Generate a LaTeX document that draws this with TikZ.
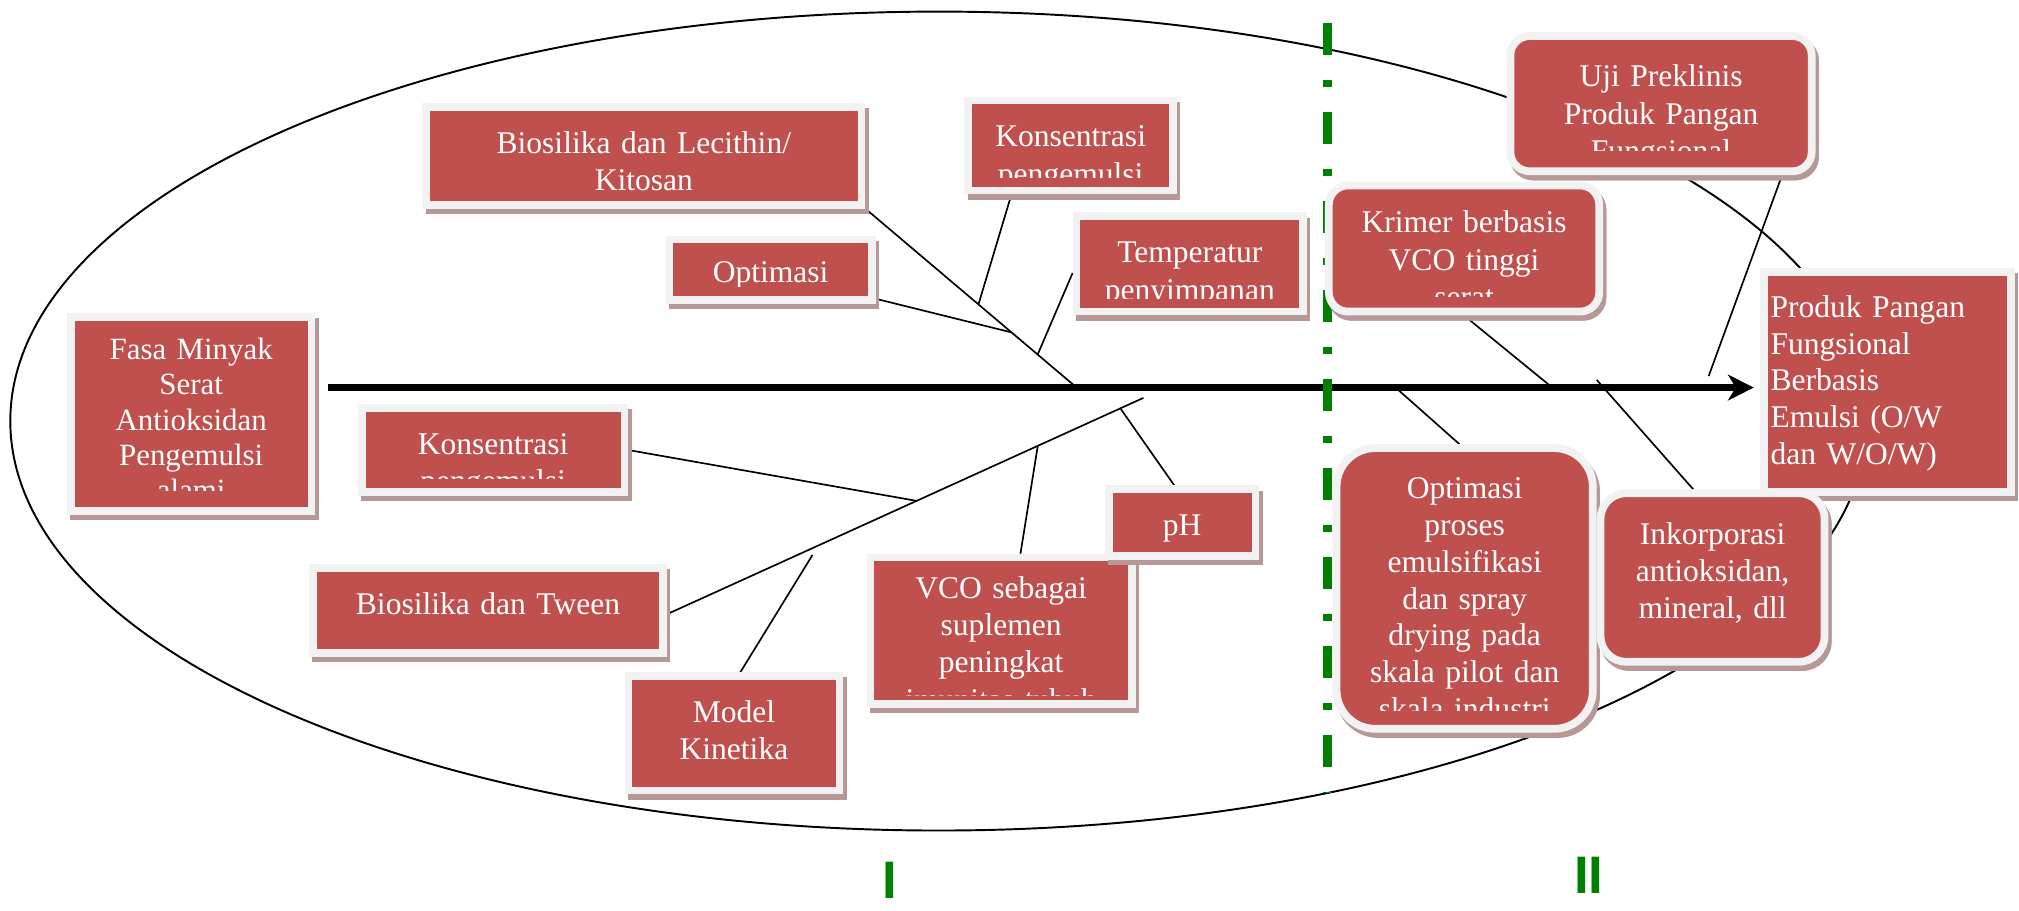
\documentclass[tikz,border=0pt]{standalone}
\usepackage{fontspec}
\setmainfont{Liberation Serif}
\newfontfamily\tms{Liberation Serif}
\newfontfamily\sansf{Liberation Sans}
\usetikzlibrary{arrows.meta}
\pgfdeclarelayer{bg}
\pgfsetlayers{bg,main}
\definecolor{redc}{RGB}{192,80,77}
\definecolor{framec}{RGB}{242,242,242}
\definecolor{shadowc}{RGB}{182,152,150}
\definecolor{greenc}{RGB}{0,128,0}

\newcommand{\bx}[7][]{%
  \pgfmathsetmacro\bw{#5-#3-6}%
  \pgfmathsetmacro\bh{#6-#4-6}%
  \pgfmathsetmacro\bcx{(#3+#5)/2}%
  \pgfmathsetmacro\bcy{(#4+#6)/2}%
  \pgfmathsetmacro\btw{\bw-10}%
  \node[cbox, minimum width=\bw pt, minimum height=\bh pt, #1,
    path picture={
      \clip (path picture bounding box.north west) rectangle ([yshift=\bclip]path picture bounding box.south east);
      \node[anchor=north, inner sep=0pt, minimum width=0pt, minimum height=0pt, draw=none, fill=none,
            text width=\btw pt, text=white, ttxt]
        at ([yshift=-\btop]path picture bounding box.north) {\strut #7};
    }] (#2) at (\bcx,\bcy) {};%
}

\begin{document}
\begin{tikzpicture}[x=1pt,y=-1pt,
  btop/.store in=\btop, bclip/.store in=\bclip,
  cbox/.style={rectangle, inner sep=0pt, fill=redc, draw=framec, line width=6pt,
     preaction={draw=shadowc, fill=shadowc, line width=6pt, transform canvas={shift={(2.5pt,-4pt)}}},
     btop=12.7pt, bclip=10.5pt,
     ttxt/.style={align=center, font=\tms\fontsize{24.5}{29}\selectfont}},
  rbox/.style={cbox, rounded corners=#1, btop=16.2pt, bclip=16pt},
  conn/.style={draw=black, line width=1.3pt},
  spine/.style={draw=black, line width=5pt, -{Stealth[length=20pt, width=20pt, inset=6pt]}},
  greenline/.style={draw=greenc, line width=7pt, dash pattern=on 24.5pt off 19.4pt on 5.8pt off 19.4pt},
  roman/.style={text=greenc, font=\sansf\bfseries\fontsize{41}{41}\selectfont, inner sep=0pt, anchor=base}
]
\useasboundingbox (0,0) rectangle (1568,707);

% junction coordinates
\coordinate (sp0) at (255,301);
\coordinate (sp1) at (1362,301);
\coordinate (ub) at (835,300);
\coordinate (jOpt) at (785,258);
\coordinate (jKa) at (760,236);
\coordinate (jTemp) at (806,275);
\coordinate (lb) at (888,309);
\coordinate (jKb) at (712,389);
\coordinate (jMod) at (631,431);
\coordinate (jVco) at (806,346);
\coordinate (jPh) at (870,317);
\coordinate (jKr) at (1208,303);
\coordinate (jUji) at (1327,292);
\coordinate (jOpB) at (1085,302);
\coordinate (jInk) at (1240,295);
\coordinate (g0) at (1031,18);
\coordinate (g1) at (1031,615);

% --- boxes ---
\bx[btop=10.75pt, bclip=16pt, ttxt/.style={align=center, font=\tms\fontsize{24}{27.5}\selectfont}]{fasa}{52}{243}{245}{400}{Fasa Minyak\\Serat\\Antioksidan\\Pengemulsi\\alami}
\bx{bioL}{328}{80}{672}{162}{Biosilika dan Lecithin/\\Kitosan}
\bx{konsA}{749}{75}{914}{151}{Konsentrasi\\pengemulsi}
\bx[btop=10pt]{optA}{517}{183}{680}{236}{Optimasi}
\bx{temp}{833}{165}{1015}{245}{Temperatur\\penyimpanan}
\bx{konsB}{278}{314}{488}{385}{Konsentrasi\\pengemulsi}
\bx{tween}{240}{438}{518}{510}{Biosilika dan Tween}
\bx{model}{485}{522}{655}{617}{Model\\Kinetika}
\bx[btop=8.2pt, bclip=6.5pt]{vco}{673}{430}{882}{550}{VCO sebagai\\suplemen\\peningkat\\imunitas tubuh}
\bx{ph}{858}{377}{978}{435}{pH}
\bx[rbox=15pt]{uji}{1170}{25}{1410}{136}{Uji Preklinis\\Produk Pangan\\Fungsional}
\bx[rbox=15pt, btop=13.5pt, bclip=12pt]{krimer}{1029}{141}{1245}{245}{Krimer berbasis\\VCO tinggi\\serat}
\bx[ttxt/.style={align=left, font=\tms\fontsize{24.5}{28.5}\selectfont}]{produk}{1367}{208}{1565}{385}{Produk Pangan\\Fungsional\\Berbasis\\Emulsi (O/W\\dan W/O/W)}
\bx[rbox=30pt, bclip=14pt, ttxt/.style={align=center, font=\tms\fontsize{24.5}{28.6}\selectfont}]{optB}{1035}{345}{1240}{569}{Optimasi\\proses\\emulsifikasi\\dan spray\\drying pada\\skala pilot dan\\skala industri}
\bx[rbox=20pt]{ink}{1240}{380}{1420}{517}{Inkorporasi\\antioksidan,\\mineral, dll}

% --- background: ellipse, connectors, spine, divider ---
\begin{pgfonlayer}{bg}
\draw[line width=1.5pt] (729,327) ellipse [x radius=721pt, y radius=318pt];
% upper fishbone
\draw[conn] (bioL.south east) -- (ub);
\draw[conn] ([yshift=4pt]optA.south east) -- (jOpt);
\draw[conn] ([xshift=-46pt]konsA.south) -- (jKa);
\draw[conn] ([yshift=-7pt]temp.west) -- (jTemp);
% lower fishbone
\draw[conn] ([yshift=-3pt]tween.east) -- (lb);
\draw[conn] (konsB.east) -- (jKb);
\draw[conn] ([xshift=5pt]model.north) -- (jMod);
\draw[conn] ([xshift=15pt]vco.north) -- (jVco);
\draw[conn] ([xshift=-6pt]ph.north) -- (jPh);
% right side
\draw[conn] (krimer.south) -- (jKr);
\draw[conn] ([xshift=94pt]uji.south) -- (jUji);
\draw[conn] ([xshift=-4pt]optB.north) -- (jOpB);
\draw[conn] ([xshift=-15pt]ink.north) -- (jInk);
% spine and divider
\draw[spine] (sp0) -- (sp1);
\draw[greenline] (g0) -- (g1);
\end{pgfonlayer}

% phase labels
\node[roman] (labI) at (691,698) {I};
\node[roman] (labII) at (1234,694) {II};
\end{tikzpicture}
\end{document}
